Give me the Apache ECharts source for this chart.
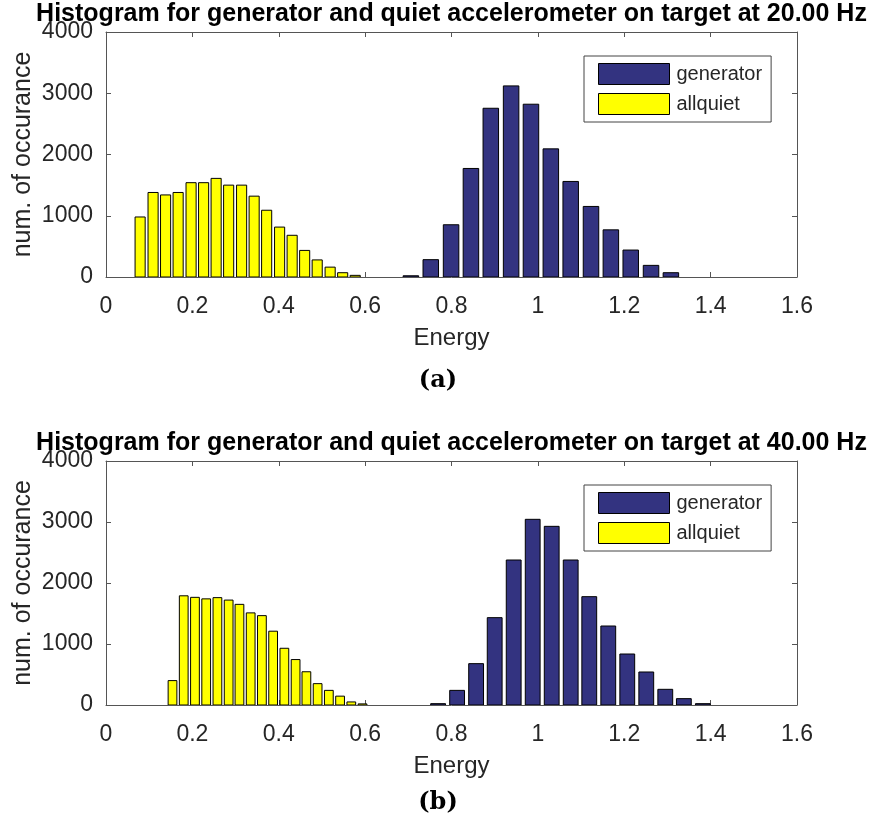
<!DOCTYPE html>
<html>
<head>
<meta charset="utf-8">
<script src="https://cdn.jsdelivr.net/npm/echarts@6/dist/echarts.min.js"></script>
<style>
html,body{margin:0;padding:0;background:#fff;}
#chart{width:876px;height:825px;}
</style>
</head>
<body>
<div id="chart"></div>
<script>
// ---- Data ----
var titles = [
  'Histogram for generator and quiet accelerometer on target at 20.00 Hz',
  'Histogram for generator and quiet accelerometer on target at 40.00 Hz'
];
var captions = ['(a)', '(b)'];
var seriesNames = ['generator', 'allquiet'];
var xAxisName = 'Energy';
var yAxisName = 'num. of occurance';
var xTicks = [0, 0.2, 0.4, 0.6, 0.8, 1, 1.2, 1.4, 1.6];
var yTicks = [0, 1000, 2000, 3000, 4000];

// Panel (a) 20 Hz
var genCentersA = [0.706, 0.752, 0.799, 0.845, 0.891, 0.938, 0.984, 1.030, 1.076, 1.123, 1.169, 1.215, 1.262, 1.308];
var genCountsA  = [20, 283, 853, 1772, 2755, 3120, 2821, 2092, 1560, 1152, 770, 440, 190, 70];
var quietCentersA = [0.079, 0.109, 0.138, 0.167, 0.197, 0.226, 0.255, 0.284, 0.314, 0.343, 0.372, 0.402, 0.431, 0.460, 0.489, 0.519, 0.548, 0.577];
var quietCountsA  = [980, 1380, 1340, 1380, 1540, 1540, 1610, 1500, 1500, 1320, 1090, 815, 681, 434, 279, 161, 70, 27];

// Panel (b) 40 Hz
var genCentersB = [0.769, 0.813, 0.857, 0.900, 0.944, 0.988, 1.032, 1.076, 1.119, 1.163, 1.207, 1.251, 1.295, 1.338, 1.382];
var genCountsB  = [22, 240, 678, 1432, 2377, 3044, 2929, 2377, 1776, 1295, 836, 541, 257, 104, 22];
var quietCentersB = [0.154, 0.180, 0.206, 0.232, 0.258, 0.284, 0.309, 0.335, 0.361, 0.387, 0.413, 0.439, 0.464, 0.490, 0.516, 0.542, 0.568, 0.594];
var quietCountsB  = [400, 1790, 1765, 1740, 1760, 1720, 1650, 1510, 1465, 1210, 930, 745, 545, 350, 240, 145, 50, 18];

// ---- Styling ----
var GEN_COLOR = '#333380';
var QUIET_COLOR = '#ffff00';
var BAR_FRAC = 0.78;
var FONT = '"Liberation Sans", Arial, Helvetica, sans-serif';
var TEXT_COLOR = '#262626';
var AXIS_COLOR = '#555555';

var grids = [
  {left: 106, top: 32, width: 691, height: 245, containLabel: false, outerBoundsMode: 'none'},
  {left: 106, top: 461, width: 691, height: 244, containLabel: false, outerBoundsMode: 'none'}
];

function pairs(xs, ys) {
  var out = [];
  for (var i = 0; i < xs.length; i++) out.push([xs[i], ys[i]]);
  return out;
}

function makeRender(binW) {
  return function (params, api) {
    var x = api.value(0), y = api.value(1);
    var half = binW * BAR_FRAC / 2;
    var p0 = api.coord([x - half, y]);
    var p1 = api.coord([x + half, 0]);
    return {
      type: 'rect',
      shape: {x: p0[0], y: p0[1], width: p1[0] - p0[0], height: p1[1] - p0[1]},
      style: {fill: api.visual('color'), stroke: '#000', lineWidth: 1}
    };
  };
}

function plainNum(v) { return String(v); }

var xAxes = [], yAxes = [], series = [], legends = [], titleList = [];
var panels = [
  {gc: genCentersA, gv: genCountsA, qc: quietCentersA, qv: quietCountsA},
  {gc: genCentersB, gv: genCountsB, qc: quietCentersB, qv: quietCountsB}
];

panels.forEach(function (p, i) {
  var g = grids[i];
  xAxes.push({
    type: 'value', gridIndex: i, position: 'bottom',
    min: xTicks[0], max: xTicks[xTicks.length - 1], interval: xTicks[1] - xTicks[0],
    name: xAxisName, nameLocation: 'middle', nameGap: 49, nameMoveOverlap: false,
    nameTextStyle: {fontFamily: FONT, fontSize: 24, color: TEXT_COLOR},
    axisLine: {show: true, onZero: false, lineStyle: {color: AXIS_COLOR, width: 1}},
    axisTick: {show: true, inside: true, length: 5, lineStyle: {color: AXIS_COLOR}},
    axisLabel: {fontFamily: FONT, fontSize: 23, color: TEXT_COLOR, margin: 18, formatter: plainNum},
    splitLine: {show: false}
  });
  xAxes.push({
    type: 'value', gridIndex: i, position: 'top',
    min: xTicks[0], max: xTicks[xTicks.length - 1], interval: xTicks[1] - xTicks[0],
    axisLine: {show: true, onZero: false, lineStyle: {color: AXIS_COLOR, width: 1}},
    axisTick: {show: true, inside: true, length: 5, lineStyle: {color: AXIS_COLOR}},
    axisLabel: {show: false},
    splitLine: {show: false}
  });
  yAxes.push({
    type: 'value', gridIndex: i, position: 'left',
    min: yTicks[0], max: yTicks[yTicks.length - 1], interval: yTicks[1] - yTicks[0],
    name: yAxisName, nameLocation: 'middle', nameGap: 70, nameRotate: 90, nameMoveOverlap: false,
    nameTextStyle: {fontFamily: FONT, fontSize: 25, color: TEXT_COLOR},
    axisLine: {show: true, onZero: false, lineStyle: {color: AXIS_COLOR, width: 1}},
    axisTick: {show: true, inside: true, length: 5, lineStyle: {color: AXIS_COLOR}},
    axisLabel: {fontFamily: FONT, fontSize: 23, color: TEXT_COLOR, margin: 13, formatter: plainNum},
    splitLine: {show: false}
  });
  yAxes.push({
    type: 'value', gridIndex: i, position: 'right',
    min: yTicks[0], max: yTicks[yTicks.length - 1], interval: yTicks[1] - yTicks[0],
    axisLine: {show: true, onZero: false, lineStyle: {color: AXIS_COLOR, width: 1}},
    axisTick: {show: true, inside: true, length: 5, lineStyle: {color: AXIS_COLOR}},
    axisLabel: {show: false},
    splitLine: {show: false}
  });
  series.push({
    type: 'custom', name: seriesNames[0],
    xAxisIndex: i * 2, yAxisIndex: i * 2,
    itemStyle: {color: GEN_COLOR},
    renderItem: makeRender(p.gc[1] - p.gc[0]),
    encode: {x: 0, y: 1},
    data: pairs(p.gc, p.gv), clip: true, silent: true
  });
  series.push({
    type: 'custom', name: seriesNames[1],
    xAxisIndex: i * 2, yAxisIndex: i * 2,
    itemStyle: {color: QUIET_COLOR},
    renderItem: makeRender(p.qc[1] - p.qc[0]),
    encode: {x: 0, y: 1},
    data: pairs(p.qc, p.qv), clip: true, silent: true
  });
  legends.push({
    orient: 'vertical', left: 584, top: g.top + 24,
    data: [
      {name: seriesNames[0], itemStyle: {color: GEN_COLOR}},
      {name: seriesNames[1], itemStyle: {color: QUIET_COLOR}}
    ],
    icon: 'rect', itemWidth: 71, itemHeight: 21, itemGap: 8,
    padding: [7, 9, 7, 14],
    borderColor: '#444', borderWidth: 1, backgroundColor: '#fff',
    itemStyle: {borderColor: '#000', borderWidth: 1},
    textStyle: {fontFamily: FONT, fontSize: 20, color: TEXT_COLOR, padding: [0, 0, 0, 2]},
    selectedMode: false
  });
  titleList.push({
    text: titles[i], left: g.left + g.width / 2, textAlign: 'center', top: g.top - 30, padding: 0,
    textStyle: {fontFamily: FONT, fontSize: 25, fontWeight: 'bold', color: '#000'}
  });
});

var chart = echarts.init(document.getElementById('chart'), null, {renderer: 'canvas'});
chart.setOption({
  backgroundColor: '#fff',
  animation: false,
  title: titleList,
  grid: grids,
  xAxis: xAxes,
  yAxis: yAxes,
  legend: legends,
  series: series,
  graphic: [
    {type: 'text', left: 'center', top: 369, style: {text: captions[0], font: 'bold 24px "DejaVu Serif", serif', fill: '#000'}},
    {type: 'text', left: 'center', top: 791, style: {text: captions[1], font: 'bold 24px "DejaVu Serif", serif', fill: '#000'}}
  ]
});
</script>
</body>
</html>
